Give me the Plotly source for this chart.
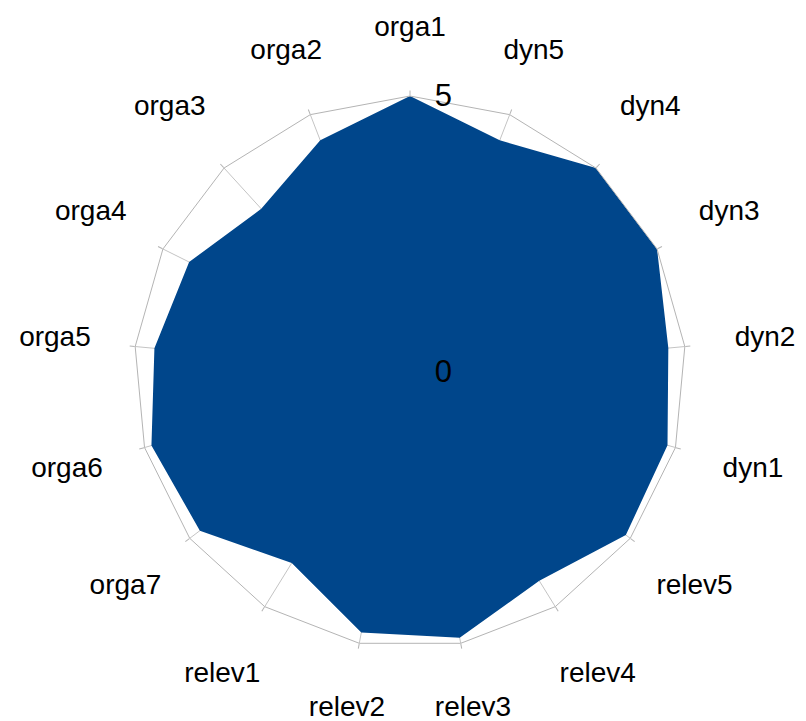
import math
import plotly.graph_objects as go

categories = ["orga1", "dyn5", "dyn4", "dyn3", "dyn2", "dyn1", "relev5", "relev4",
              "relev3", "relev2", "relev1", "orga7", "orga6", "orga5", "orga4", "orga3", "orga2"]
values = [5.0, 4.5, 5.0, 5.0, 4.7, 4.85, 4.9, 4.45, 4.9, 4.8, 4.07, 4.77, 4.87, 4.65, 4.47, 4.0, 4.5]
radial_ticks = [0, 5]

W, H = 806, 721
CX, CY, R = 402, 364, 276          # plot centre (figure px from top-left) and radius of value 5
LABEL_MAX = 6.46                   # outer radial range of the label ring subplot


def domain_for(radius):
    return dict(x=[(CX - radius) / W, (CX + radius) / W],
                y=[(H - CY - radius) / H, (H - CY + radius) / H])


dom = domain_for(R)
dom2 = domain_for(R * LABEL_MAX / 5)

# label ring radius (axis units): labels near top/bottom sit closer, side labels farther out
n = len(categories)
label_r = [6.21 if abs(math.sin(2 * math.pi * i / n)) < 0.5 else LABEL_MAX for i in range(n)]

fig = go.Figure()
fig.add_trace(go.Scatterpolar(
    r=values + values[:1],
    theta=categories + categories[:1],
    mode="lines",
    fill="toself",
    fillcolor="#00468b",
    line=dict(color="#00468b", width=0),
    showlegend=False,
    subplot="polar",
))
fig.add_trace(go.Scatterpolar(
    r=label_r,
    theta=categories,
    mode="text",
    text=categories,
    textposition="middle center",
    textfont=dict(size=28, color="black"),
    cliponaxis=False,
    showlegend=False,
    hoverinfo="skip",
    subplot="polar2",
))

fig.update_layout(
    width=W, height=H,
    margin=dict(l=0, r=0, t=0, b=0),
    paper_bgcolor="white",
    font=dict(family="Liberation Sans, Arial, sans-serif", color="black"),
    polar=dict(
        domain=dom,
        bgcolor="white",
        gridshape="linear",
        angularaxis=dict(
            direction="clockwise",
            rotation=90,
            categoryarray=categories,
            showline=True,
            linecolor="#b4b4b4",
            linewidth=1,
            gridcolor="#c4c4c4",
            gridwidth=1,
            ticks="outside",
            ticklen=5,
            tickcolor="#b4b4b4",
            showticklabels=False,
            layer="above traces",
        ),
        radialaxis=dict(
            range=[0, 5],
            tickvals=radial_ticks,
            ticktext=[str(v) for v in radial_ticks],
            angle=90,
            side="clockwise",
            showline=False,
            showgrid=False,
            ticks="outside",
            ticklen=18,
            tickcolor="rgba(0,0,0,0)",
            tickfont=dict(size=31),
            tickangle=90,
            layer="above traces",
        ),
    ),
    polar2=dict(
        domain=dom2,
        bgcolor="rgba(0,0,0,0)",
        gridshape="linear",
        angularaxis=dict(
            direction="clockwise",
            rotation=90,
            categoryarray=categories,
            showline=False,
            showgrid=False,
            ticks="",
            showticklabels=False,
        ),
        radialaxis=dict(visible=False, range=[0, LABEL_MAX]),
    ),
)

fig.write_html("out.html")
